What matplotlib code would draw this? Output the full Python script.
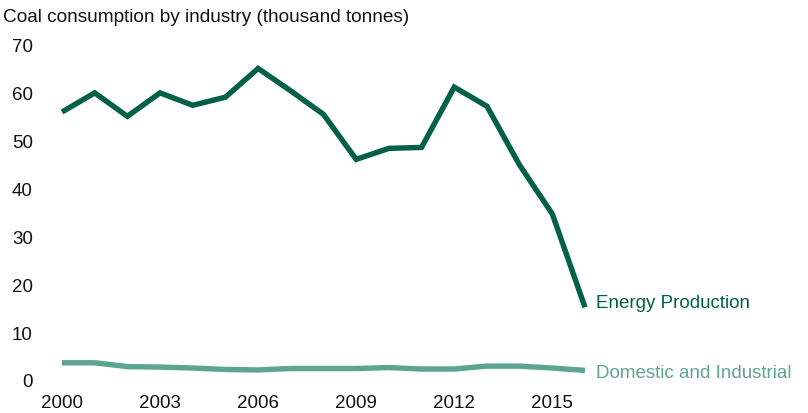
import numpy as np
import matplotlib.pyplot as plt

plt.rcParams['font.family'] = ['Liberation Sans', 'DejaVu Sans']

years = list(range(2000, 2017))
energy = [56.0, 60.0, 55.1, 60.0, 57.4, 59.1, 65.1, 60.4, 55.5, 46.1,
          48.4, 48.6, 61.2, 57.2, 44.9, 34.7, 15.2]
domestic = [3.6, 3.6, 2.8, 2.7, 2.5, 2.2, 2.1, 2.4, 2.4, 2.4,
            2.6, 2.3, 2.3, 2.9, 2.9, 2.5, 2.0]

energy_col = '#006148'
domestic_col = '#5DA593'
text_col = '#111111'

fig = plt.figure(figsize=(8.08, 4.14), dpi=100)
ax = fig.add_axes([62 / 808, 33 / 414, (585 - 62) / 808, (368 - 33) / 414])

ax.plot(years, energy, color=energy_col, lw=3.9, solid_capstyle='butt',
        solid_joinstyle='miter', clip_on=False)
ax.plot(years, domestic, color=domestic_col, lw=3.9, solid_capstyle='butt',
        clip_on=False)

ax.set_xlim(2000, 2016)
ax.set_ylim(0, 70)
ax.set_yticks(np.arange(0, 71, 10))
ax.set_xticks([2000, 2003, 2006, 2009, 2012, 2015])

for s in ax.spines.values():
    s.set_visible(False)
ax.tick_params(axis='both', length=0, labelsize=13.5, colors=text_col)
ax.tick_params(axis='y', pad=21)
ax.tick_params(axis='x', pad=10)

ax.text(2016 + 0.35, energy[-1] + 1.0, 'Energy Production', color=energy_col,
        fontsize=13.5, va='center', ha='left', clip_on=False)
ax.text(2016 + 0.35, domestic[-1] - 0.5, 'Domestic and Industrial', color=domestic_col,
        fontsize=13.5, va='center', ha='left', clip_on=False)

fig.text(3 / 808, 1 - 17 / 414, 'Coal consumption by industry (thousand tonnes)',
         fontsize=13.7, color=text_col, va='center', ha='left')

fig.savefig('out.png', dpi=100)
